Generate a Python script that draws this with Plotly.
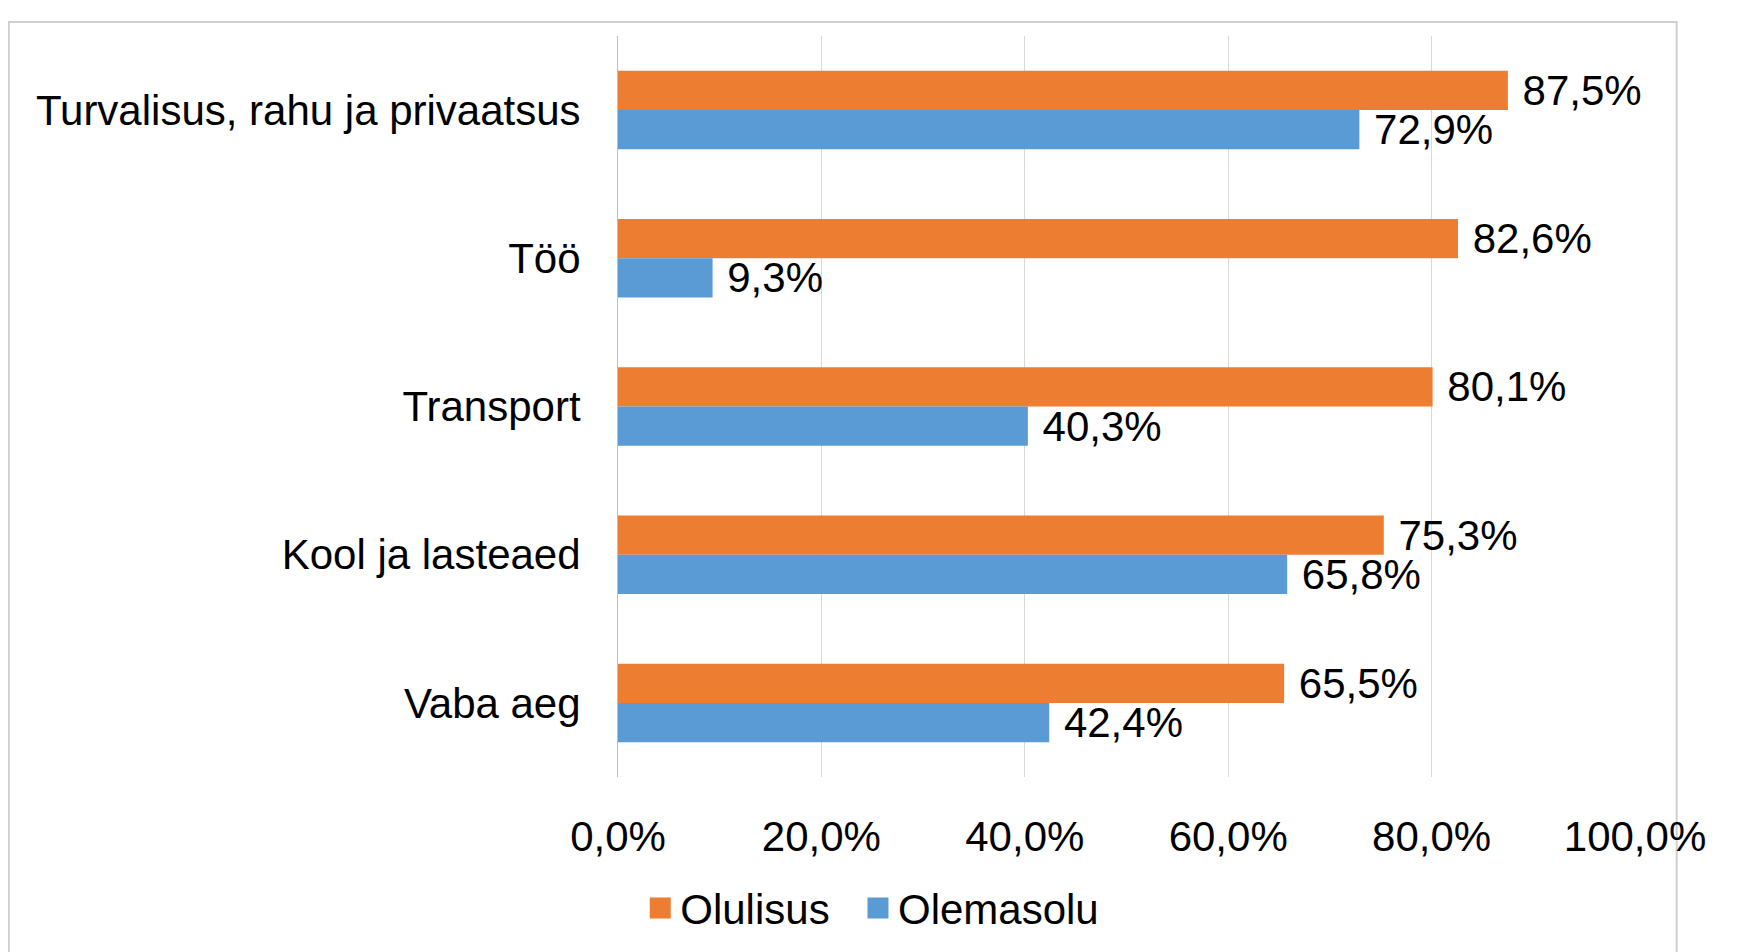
import plotly.graph_objects as go

categories = ["Turvalisus, rahu ja privaatsus", "Töö", "Transport", "Kool ja lasteaed", "Vaba aeg"]
olulisus = [87.5, 82.6, 80.1, 75.3, 65.5]
olemasolu = [72.9, 9.3, 40.3, 65.8, 42.4]
tick_vals = [0, 20, 40, 60, 80, 100]
tick_text = ["0,0%", "20,0%", "40,0%", "60,0%", "80,0%", "100,0%"]
series_names = ["Olulisus", "Olemasolu"]

ORANGE = "#ED7D31"
BLUE = "#5B9BD5"
FONT = "Liberation Sans, Arial, sans-serif"
FS = 42

fig = go.Figure()
for name, vals, col in [(series_names[0], olulisus, ORANGE), (series_names[1], olemasolu, BLUE)]:
    fig.add_trace(go.Bar(
        y=categories, x=vals, name=name, orientation="h", showlegend=False,
        marker=dict(color=col, line=dict(width=0)),
        texttemplate=" %{x:.1f}%", textposition="outside", constraintext="none",
        cliponaxis=False, textfont=dict(size=FS, color="black", family=FONT),
    ))
# legend entries with larger square swatches (extra gap after first entry)
for name, col, pad in [(series_names[0], ORANGE, "\u00a0\u00a0"), (series_names[1], BLUE, "")]:
    fig.add_trace(go.Scatter(
        x=[None], y=[None], mode="markers", name=name + pad, showlegend=True,
        marker=dict(symbol="square", size=16, color=col, line=dict(color=col, width=5)),
    ))

fig.update_layout(
    width=1741, height=952,
    paper_bgcolor="white", plot_bgcolor="white",
    separators=", ",
    barmode="group", bargap=0.47, bargroupgap=0,
    margin=dict(l=610, r=114, t=28, b=183, autoexpand=False),
    font=dict(family=FONT, size=FS, color="black"),
    showlegend=True,
    legend=dict(orientation="h", x=0.25, xanchor="center",
                y=-0.177, yanchor="middle",
                font=dict(size=FS), traceorder="normal",
                itemsizing="trace", bgcolor="rgba(0,0,0,0)"),
    xaxis=dict(range=[0, 100], tickvals=tick_vals, ticktext=tick_text,
               showgrid=True, gridcolor="#D9D9D9", gridwidth=1,
               zeroline=False, showline=False, ticks="",
               ticklabelstandoff=31, tickfont=dict(size=FS)),
    yaxis=dict(autorange="reversed", showgrid=False, zeroline=False,
               showline=True, linecolor="#BFBFBF", linewidth=1, ticks="",
               ticklabelstandoff=28, tickfont=dict(size=FS)),
    shapes=[dict(type="rect", xref="paper", yref="paper",
                 x0=-0.599, x1=1.041, y0=-0.3, y1=1.019,
                 line=dict(color="#D0D0D0", width=2), fillcolor="rgba(0,0,0,0)",
                 layer="below")],
)

fig.write_html("out.html")
